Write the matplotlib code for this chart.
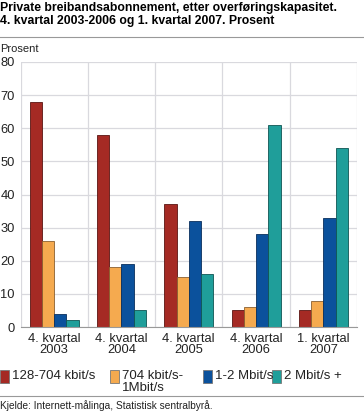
import matplotlib
import matplotlib.pyplot as plt
from matplotlib.patches import Rectangle
from matplotlib.lines import Line2D
import numpy as np

matplotlib.use('Agg')

# data
periods = ['4. kvartal\n2003', '4. kvartal\n2004', '4. kvartal\n2005',
           '4. kvartal\n2006', '1. kvartal\n2007']
series_names = ['128-704 kbit/s', '704 kbit/s-\n1Mbit/s', '1-2 Mbit/s', '2 Mbit/s +']
speed_128_704 = [68, 58, 37, 5, 5]
speed_704_1m = [26, 18, 15, 6, 8]
speed_1_2m = [4, 19, 32, 28, 33]
speed_2m_plus = [2, 5, 16, 61, 54]

colors = ['#a52a24', '#f5aa4f', '#0b519c', '#1f9e9a']
edges = ['#5a1512', '#8a6030', '#0a2f5c', '#0f5553']
values = [speed_128_704, speed_704_1m, speed_1_2m, speed_2m_plus]

plt.rcParams['font.family'] = 'Liberation Sans'

fig = plt.figure(figsize=(3.64, 4.16), dpi=100)
ax = fig.add_axes([20.5 / 364, 1 - 327 / 416, (357 - 20.5) / 364, (327 - 62) / 416])

x = np.arange(len(periods))
w = 0.182
for i, (vals, c, e) in enumerate(zip(values, colors, edges)):
    ax.bar(x + (i - 1.5) * w, vals, width=w, color=c, edgecolor=e, linewidth=0.6, zorder=3)

ax.set_xlim(-0.5, 4.5)
ax.set_ylim(0, 80)
ax.set_yticks(range(0, 81, 10))
ax.set_xticks(x)
ax.set_xticklabels(periods, fontsize=9.3, linespacing=0.95)
ax.tick_params(axis='both', length=0, labelsize=9.3, colors='#222222')
ax.tick_params(axis='y', pad=4)
ax.tick_params(axis='x', pad=4)
ax.yaxis.grid(True, color='#d9d9de', linewidth=0.9, zorder=0)
for xv in np.arange(-0.5, 4.6, 1.0):
    ax.axvline(xv, color='#d9d9de', linewidth=0.9, zorder=0)
for s in ['left', 'right', 'top']:
    ax.spines[s].set_visible(False)
ax.spines['bottom'].set_color('#999999')
ax.spines['bottom'].set_linewidth(0.8)
ax.spines['bottom'].set_zorder(4)

# title and separators
fig.text(0.0, 1 - 2 / 416, 'Private breibandsabonnement, etter overføringskapasitet.\n'
         '4. kvartal 2003-2006 og 1. kvartal 2007. Prosent',
         fontsize=8.85, fontweight='bold', va='top', ha='left', linespacing=1.1)
fig.add_artist(Line2D([0, 1], [1 - 37 / 416] * 2, color='#999999', linewidth=0.8))
fig.add_artist(Line2D([0, 1], [1 - 396 / 416] * 2, color='#999999', linewidth=0.8))
fig.text(0.0, 1 - 49 / 416, 'Prosent', fontsize=8.0, va='center', ha='left', color='#222222')

# legend drawn by hand
leg_x = [0, 110, 203, 272]
for lx, name, c, e in zip(leg_x, series_names, colors, edges):
    fig.add_artist(Rectangle((lx / 364, 1 - 383 / 416), 9 / 364, 13 / 416,
                             facecolor=c, edgecolor='#777777', linewidth=0.6))
    fig.text((lx + 12) / 364, 1 - 370 / 416, name, fontsize=9.5, va='top',
             ha='left', color='#222222', linespacing=0.95)

fig.text(0.0, 1 - 406 / 416, 'Kjelde: Internett-målinga, Statistisk sentralbyrå.',
         fontsize=7.25, va='center', ha='left', color='#222222')

fig.savefig('out.png', dpi=100)
